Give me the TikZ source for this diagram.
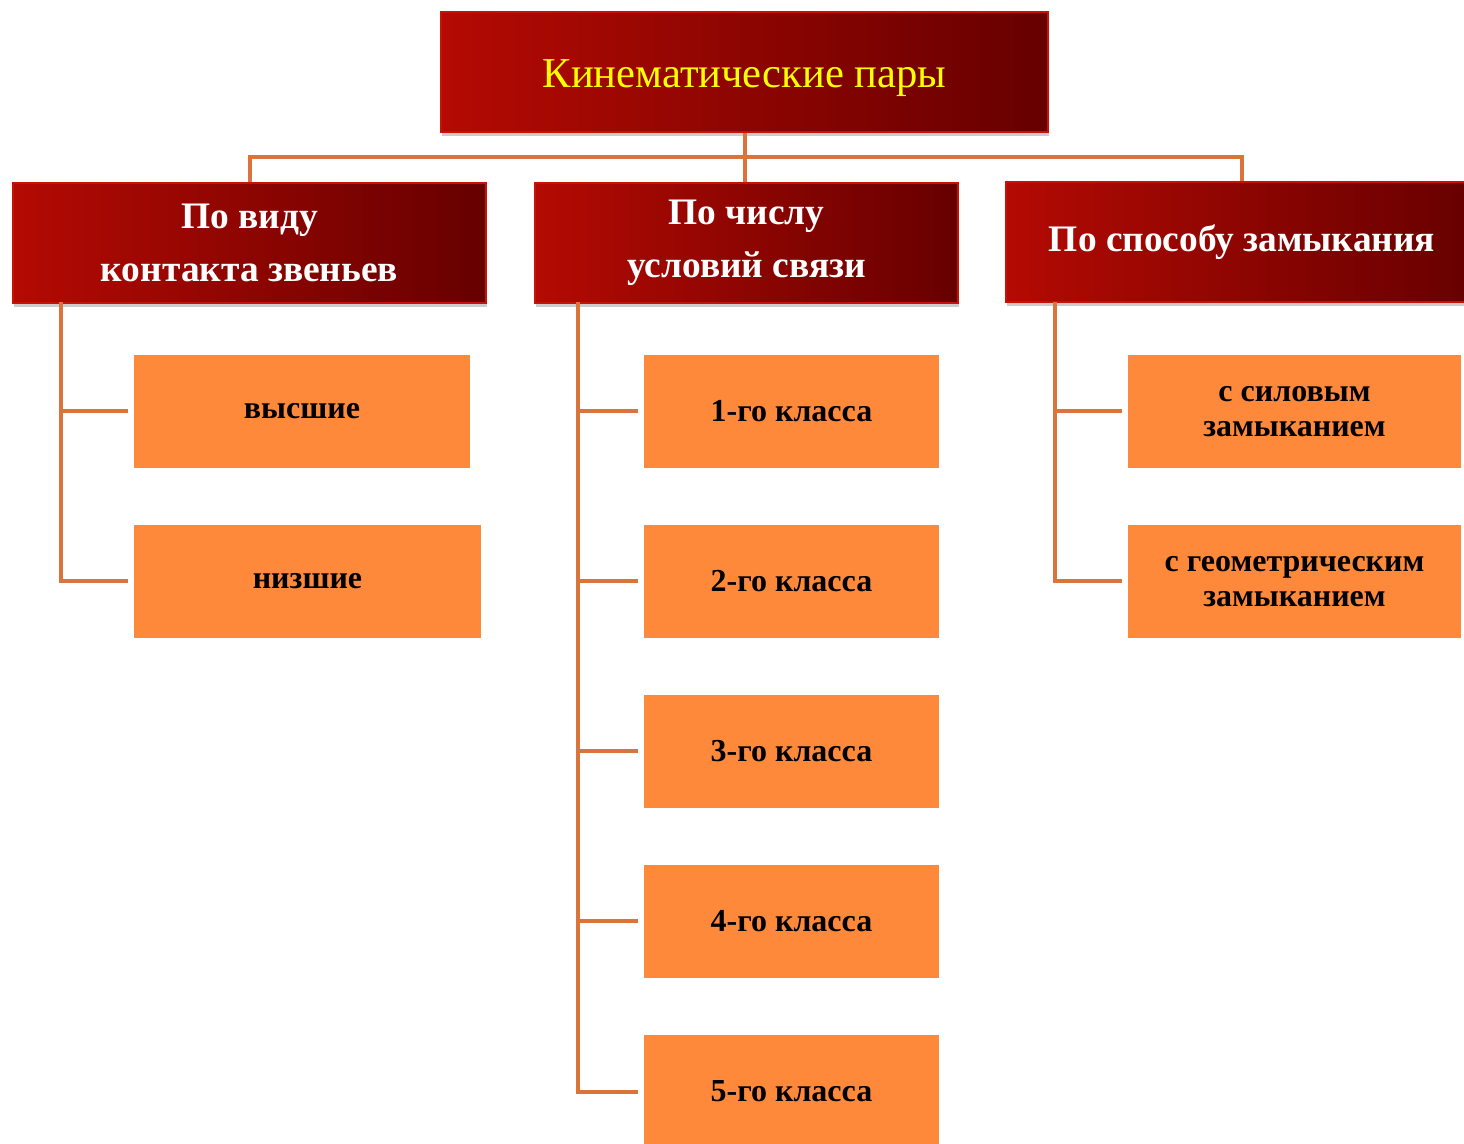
\documentclass[tikz,border=0pt]{standalone}
\usepackage{fontspec}
\setmainfont{Liberation Serif}
\usepackage{xcolor}
\usepackage{tikz}
\usetikzlibrary{positioning,shadows}
\definecolor{KPRedL}{HTML}{B40A03}
\definecolor{KPRedR}{HTML}{660000}
\definecolor{KPEdge}{HTML}{C81208}
\definecolor{KPLeaf}{HTML}{FE893A}
\definecolor{KPLine}{HTML}{DA743A}
\definecolor{KPGold}{HTML}{FFFF00}

\begin{document}
\begin{tikzpicture}[
  x=0.5pt,y=-0.5pt,
  redbox/.style={draw=KPEdge,line width=0.8pt,left color=KPRedL,right color=KPRedR,
                 minimum height=60pt,align=center,inner sep=0pt,
                 drop shadow={shadow xshift=0.5pt,shadow yshift=-2pt,opacity=0.2,fill=black}},
  headbox/.style={redbox,text=white,font=\bfseries\fontsize{18.7}{26.5}\selectfont},
  leafbox/.style={fill=KPLeaf,minimum height=56.5pt,align=center,inner sep=0pt,
                  font=\bfseries\fontsize{16}{17.5}\selectfont},
  conn/.style={draw=KPLine,line width=2pt},
  tie/.style={conn,shorten >=3pt}
]
\useasboundingbox (0,0) rectangle (1464,1144);
\clip (0,0) rectangle (1464,1144);

% top of the tree
\node[redbox,minimum width=303.5pt,text=KPGold,font=\fontsize{21.3}{24}\selectfont] (pary) at (744.5,72) {\smash{\raisebox{-8pt}{Кинематические пары}}};

% three ways of classifying
\node[headbox,minimum width=236.5pt] (vid) at (249.5,243) {По виду\\контакта звеньев};
\node[headbox,minimum width=211.5pt] (chislo) at (746.5,243) {По числу\\условий связи};
\node[headbox,minimum width=236pt] (sposob) at (1242,242) {По способу замыкания};

% leaves
\node[leafbox,minimum width=168pt] (vys) at (302,411.5) {высшие};
\node[leafbox,minimum width=173.5pt] (niz) at (307.5,581.5) {низшие};
\foreach \k in {1,...,5}
  \node[leafbox,minimum width=147.5pt] (kl\k) at (791.5,241.5+170*\k) {\k-го класса};
\node[leafbox,minimum width=166.5pt] (sil) at (1294.5,411.5) {с силовым\\замыканием};
\node[leafbox,minimum width=166.5pt] (geom) at (1294.5,581.5) {с геометрическим\\замыканием};

% connectors
\coordinate (bus) at (745,157);
\draw[conn] (pary.south) -- (pary.south |- chislo.north);
\draw[conn] (vid.north) -- (vid.north |- bus) -- (sposob.north |- bus) -- (sposob.north);

\coordinate (t1) at (61,302);
\coordinate (t2) at (578,302);
\coordinate (t3) at (1055,302);
\draw[tie] (t1) |- (vys.west);
\draw[tie] (t1) |- (niz.west);
\foreach \k in {1,...,5}
  \draw[tie] (t2) |- (kl\k.west);
\draw[tie] (t3) |- (sil.west);
\draw[tie] (t3) |- (geom.west);
\end{tikzpicture}
\end{document}
